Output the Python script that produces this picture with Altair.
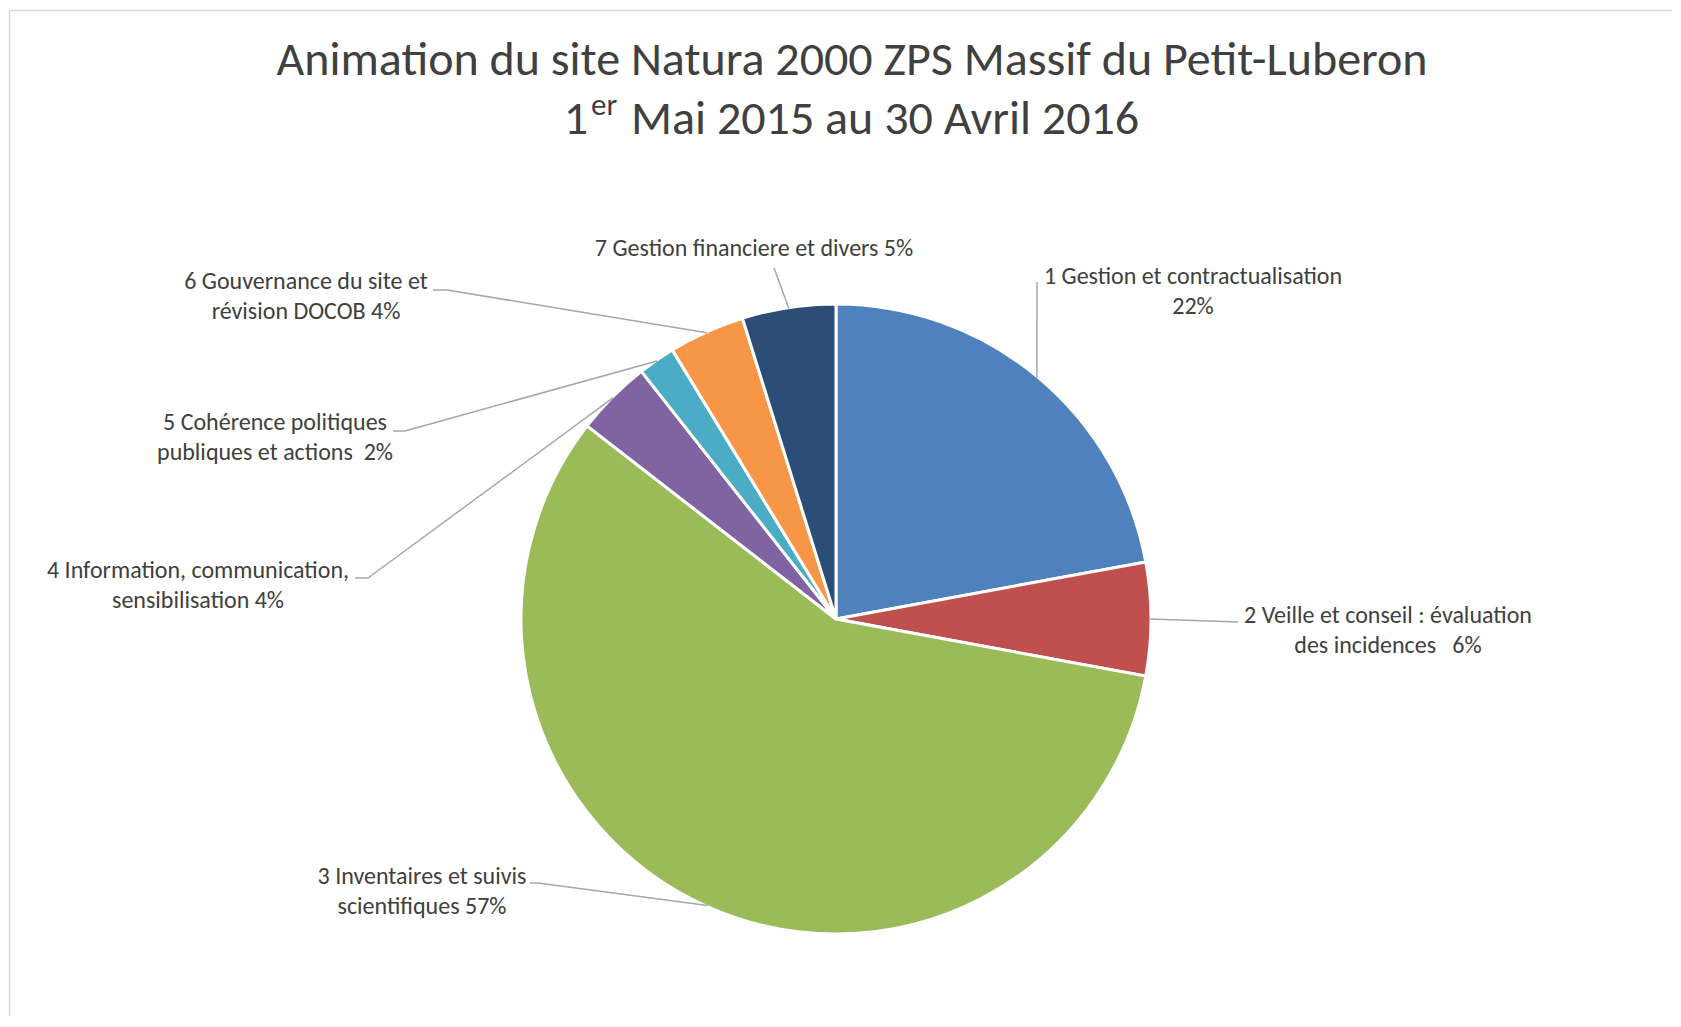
import altair as alt
import pandas as pd

# ---------------- data ----------------
categories = [
    "1 Gestion et contractualisation",
    "2 Veille et conseil : évaluation des incidences",
    "3 Inventaires et suivis scientifiques",
    "4 Information, communication, sensibilisation",
    "5 Cohérence politiques publiques et actions",
    "6 Gouvernance du site et révision DOCOB",
    "7 Gestion financiere et divers",
]
values = [22.1, 5.8, 57.6, 3.9, 1.9, 3.9, 4.8]
colors = ["#4F81BD", "#C0504D", "#9BBB59", "#8064A2", "#4BACC6", "#F79646", "#2C4D75"]

label_line1 = [
    "1 Gestion et contractualisation",
    "2 Veille et conseil : évaluation",
    "3 Inventaires et suivis",
    "4 Information, communication,",
    "5 Cohérence politiques",
    "6 Gouvernance du site et",
    "7 Gestion financiere et divers 5%",
]
label_line2 = [
    "22%",
    "des incidences\u00a0\u00a0 6%",
    "scientifiques 57%",
    "sensibilisation 4%",
    "publiques et actions\u00a0 2%",
    "révision DOCOB 4%",
    "",
]

title_line1 = "Animation du site Natura 2000 ZPS Massif du Petit-Luberon"
title_l2_a = "1"
title_l2_sup = "er"
title_l2_b = "Mai 2015 au 30 Avril 2016"

# ---------------- layout (page pixels) ----------------
OFF = 8
W, H = 1664, 1008
CX, CY, R = 836, 619, 315
label_cx = [1193, 1388, 422, 198, 275, 306, 754]
label_cy = [277, 616, 877, 571, 423, 282, 249]
LINE_GAP = 30
elbow_x = [1037, 1238, 538, 368, 405, 447, 774]
elbow_y = [282, 622, 883, 578, 431, 290, 268]
tail_x = [1037, 1238, 530, 355, 393, 433, 774]
tail_y = [282, 622, 883, 578, 431, 290, 268]

FONT = "Carlito, Lato, sans-serif"
TEXT_COLOR = "#404040"
LINE_COLOR = "#A6A6A6"
LABEL_SIZE = 24
TITLE_SIZE = 48

# ---------------- pie ----------------
pie_df = pd.DataFrame({"category": categories, "value": values, "order": list(range(len(values)))})

arcs = alt.Chart(pie_df).mark_arc(radius=R, stroke="white", strokeWidth=3).encode(
    theta=alt.Theta("value:Q", stack=True),
    order=alt.Order("order:Q"),
    color=alt.Color("category:N", scale=alt.Scale(domain=categories, range=colors), legend=None),
    x=alt.value(CX - OFF),
    y=alt.value(CY - OFF),
)

# ---------------- leader lines ----------------
lead_df = pd.DataFrame({
    "category": categories,
    "value": values,
    "order": list(range(len(values))),
    "ex": [v - OFF for v in elbow_x],
    "ey": [v - OFF for v in elbow_y],
    "tx": [v - OFF for v in tail_x],
    "ty": [v - OFF for v in tail_y],
})

lead_base = alt.Chart(lead_df).transform_window(
    cum="sum(value)", sort=[alt.SortField("order")], frame=[None, 0]
).transform_joinaggregate(total="sum(value)").transform_calculate(
    mid="2*PI*(datum.cum - datum.value/2)/datum.total",
    sx=f"{CX - OFF} + {R - 1}*sin(datum.mid)",
    sy=f"{CY - OFF} - {R - 1}*cos(datum.mid)",
)

seg1 = lead_base.mark_rule(color=LINE_COLOR, strokeWidth=1.5).encode(
    x=alt.X("sx:Q", scale=None, axis=None),
    y=alt.Y("sy:Q", scale=None, axis=None),
    x2="ex:Q",
    y2="ey:Q",
)
seg2 = alt.Chart(lead_df).mark_rule(color=LINE_COLOR, strokeWidth=1.5).encode(
    x=alt.X("ex:Q", scale=None, axis=None),
    y=alt.Y("ey:Q", scale=None, axis=None),
    x2="tx:Q",
    y2="ty:Q",
)

# ---------------- labels ----------------
rows = []
for l1, l2, x, y in zip(label_line1, label_line2, label_cx, label_cy):
    rows.append({"t": l1, "x": x - OFF, "y": y - OFF})
    if l2:
        rows.append({"t": l2, "x": x - OFF, "y": y + LINE_GAP - OFF})
lab_df = pd.DataFrame(rows)

labels = alt.Chart(lab_df).mark_text(
    font=FONT, fontSize=LABEL_SIZE, color=TEXT_COLOR, align="center", baseline="middle"
).encode(
    x=alt.X("x:Q", scale=None, axis=None),
    y=alt.Y("y:Q", scale=None, axis=None),
    text="t:N",
)

# ---------------- title ----------------
t_df = pd.DataFrame([
    {"t": title_line1, "x": 852 - OFF, "y": 61 - OFF},
])
title1 = alt.Chart(t_df).mark_text(
    font=FONT, fontSize=TITLE_SIZE, color=TEXT_COLOR, align="center", baseline="middle"
).encode(x=alt.X("x:Q", scale=None, axis=None), y=alt.Y("y:Q", scale=None, axis=None), text="t:N")

t2a = alt.Chart(pd.DataFrame([{"t": title_l2_a, "x": 588 - OFF, "y": 120 - OFF}])).mark_text(
    font=FONT, fontSize=TITLE_SIZE, color=TEXT_COLOR, align="right", baseline="middle"
).encode(x=alt.X("x:Q", scale=None, axis=None), y=alt.Y("y:Q", scale=None, axis=None), text="t:N")
t2s = alt.Chart(pd.DataFrame([{"t": title_l2_sup, "x": 591 - OFF, "y": 106 - OFF}])).mark_text(
    font=FONT, fontSize=31, color=TEXT_COLOR, align="left", baseline="middle"
).encode(x=alt.X("x:Q", scale=None, axis=None), y=alt.Y("y:Q", scale=None, axis=None), text="t:N")
t2b = alt.Chart(pd.DataFrame([{"t": title_l2_b, "x": 631 - OFF, "y": 120 - OFF}])).mark_text(
    font=FONT, fontSize=TITLE_SIZE, color=TEXT_COLOR, align="left", baseline="middle"
).encode(x=alt.X("x:Q", scale=None, axis=None), y=alt.Y("y:Q", scale=None, axis=None), text="t:N")

# ---------------- frame ----------------
dummy = pd.DataFrame({"a": [0]})
top_border = alt.Chart(dummy).mark_rule(color="#D9D9D9", strokeWidth=1.5).encode(
    x=alt.value(9 - OFF), x2=alt.value(W), y=alt.value(10.5 - OFF)
)
left_border = alt.Chart(dummy).mark_rule(color="#D9D9D9", strokeWidth=1.5).encode(
    x=alt.value(9.5 - OFF), y=alt.value(10 - OFF), y2=alt.value(H)
)

chart = alt.layer(
    top_border, left_border, arcs, seg1, seg2, labels, title1, t2a, t2s, t2b
).properties(
    width=W, height=H, padding=0,
    autosize=alt.AutoSizeParams(type="fit", contains="padding"),
    background="white",
).configure_view(stroke=None)

chart.save("out.html", embed_options={"renderer": "svg", "actions": False})
